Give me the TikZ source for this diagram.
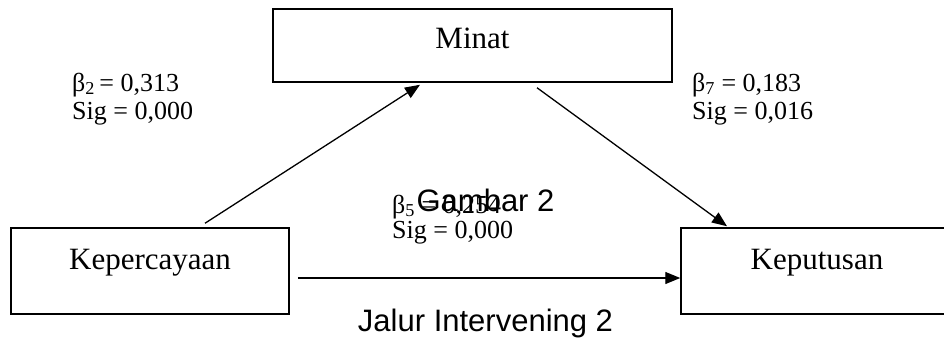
\documentclass[tikz,border=0pt]{standalone}
\usepackage{fontspec}
\setmainfont{Liberation Serif}
\newfontfamily\arialf{Liberation Sans}
\usetikzlibrary{arrows.meta}
\begin{document}
\begin{tikzpicture}[x=1pt,y=-1pt,
 box/.style={draw, line width=1.5pt, rectangle, inner sep=0pt},
 conn/.style={line width=1.3pt, -{Triangle[length=15pt,width=12pt]}},
 lbl/.style={font=\fontsize{26}{26}\selectfont, anchor=base west, inner sep=0pt},
 boxtxt/.style={font=\fontsize{31}{36}\selectfont, anchor=base, inner sep=0pt},
 captxt/.style={font=\arialf\fontsize{31}{36}\selectfont, anchor=base, inner sep=0pt}]
\clip (0,0) rectangle (944,343);
\fill[white] (0,0) rectangle (944,343);
% boxes
\node[box, minimum width=399pt, minimum height=73pt] (minat) at (472.5,45.5) {};
\node[box, minimum width=278pt, minimum height=86pt] (kep) at (150,271) {};
\node[box, minimum width=272pt, minimum height=86pt] (kepu) at (817,271) {};
\node[boxtxt] (tminat) at (472.5,48) {Minat};
\node[boxtxt] (tkep) at (150,269) {Kepercayaan};
\node[boxtxt] (tkepu) at (817,269) {Keputusan};
% connectors
\draw[conn] ([xshift=55pt,yshift=4pt]kep.north) -- ([xshift=-52.5pt,yshift=-2pt]minat.south);
\draw[conn] ([xshift=64.5pt,yshift=-5pt]minat.south) -- ([xshift=-90pt,yshift=1pt]kepu.north);
\draw[conn] ([xshift=8pt,yshift=-7pt]kep.east) -- ([yshift=-7pt]kepu.west);
% labels
\node[lbl] (b2) at (72,91) {β\textsubscript{2}\,= 0,313};
\node[lbl] (s2) at (72,119) {Sig = 0,000};
\node[lbl] (b7) at (692,91) {β\textsubscript{7} = 0,183};
\node[lbl] (s7) at (692,119) {Sig = 0,016};
\node[lbl] (b5) at (392,213) {β\textsubscript{5} = 0,254};
\node[lbl] (s5) at (392,238) {Sig = 0,000};
% captions
\node[captxt] (gambar) at (485.5,211) {Gambar 2};
\node[captxt] (jalur) at (485.5,331) {Jalur Intervening 2};
\end{tikzpicture}
\end{document}
